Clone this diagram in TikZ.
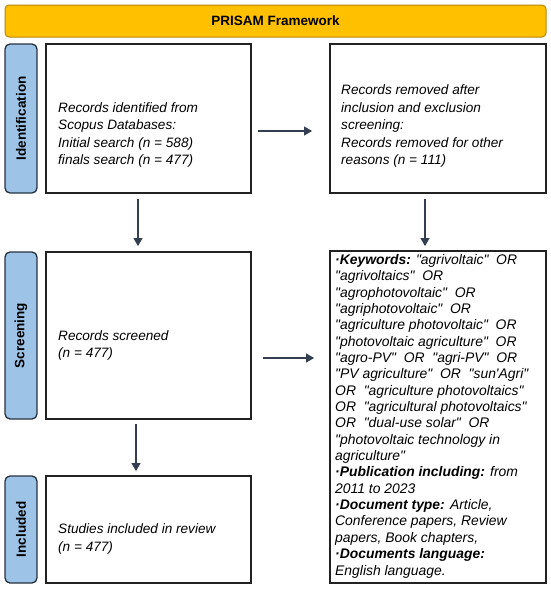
\documentclass[tikz,border=0pt]{standalone}
\usepackage{fontspec}
\setmainfont{Liberation Sans}[Ligatures=TeXOff]
\usetikzlibrary{arrows.meta}
\definecolor{ttlfill}{HTML}{FFC000}
\definecolor{ttldraw}{HTML}{B8860B}
\definecolor{lblfill}{HTML}{9DC3E6}
\definecolor{lbldraw}{HTML}{26313F}
\definecolor{arrcol}{HTML}{333F50}
\definecolor{boxcol}{HTML}{222222}
\tikzset{
  titlebox/.style={draw=ttldraw, line width=1pt, fill=ttlfill, rounded corners=4pt,
    minimum width=541pt, minimum height=32pt, inner sep=0pt,
    font=\fontsize{13.5}{16}\selectfont\bfseries},
  sidelabel/.style={draw=lbldraw, line width=1.3pt, fill=lblfill, rounded corners=5pt,
    minimum width=32pt, inner sep=0pt,
    font=\fontsize{13.5}{16}\selectfont\bfseries},
  mainbox/.style={draw=boxcol, line width=1.6pt, fill=white, inner sep=0pt},
  boxtext/.style={anchor=base west, align=left, inner sep=0pt,
    font=\fontsize{13.6}{17.5}\selectfont\itshape},
  listtext/.style={anchor=base west, align=left, inner sep=0pt,
    font=\fontsize{13.9}{16.35}\selectfont\itshape},
  arr/.style={draw=arrcol, line width=2pt, -{Triangle[length=8pt,width=8.5pt]}}
}
\begin{document}
\begin{tikzpicture}[x=1pt, y=-1pt]
\useasboundingbox (0,0) rectangle (550,589);

\node[titlebox] (title) at (275.5,21) {PRISAM Framework};

\node[sidelabel, minimum height=149pt] (lid) at (21,118.5) {\rotatebox{90}{Identification}};
\node[sidelabel, minimum height=167pt] (lsc) at (21,335.5) {\rotatebox{90}{Screening}};
\node[sidelabel, minimum height=107pt] (lin) at (21,529.5) {\rotatebox{90}{Included}};

\node[mainbox, minimum width=205pt, minimum height=149pt] (b1) at (148.5,118.5) {};
\node[mainbox, minimum width=216pt, minimum height=149pt] (b2) at (438,118.5) {};
\node[mainbox, minimum width=205pt, minimum height=167pt] (b3) at (148.5,335.5) {};
\node[mainbox, minimum width=216pt, minimum height=332pt] (b4) at (438,417) {};
\node[mainbox, minimum width=205pt, minimum height=107pt] (b5) at (148.5,529.5) {};

\node[boxtext] (t1) at (58,164.5) {Records identified from\\Scopus Databases:\\Initial search (n = 588)\\finals search (n = 477)};
\node[boxtext] (t2) at (341,164.5) {Records removed after\\inclusion and exclusion\\screening:\\Records removed for other\\reasons (n = 111)};
\node[boxtext] (t3) at (58,357.6) {Records screened\\(n = 477)};
\node[boxtext] (t5) at (58,551) {Studies included in review\\(n = 477)};
\node[listtext] (t4) at (335,575) {\textbf{·Keywords:} "agrivoltaic"\ \ OR\\
"agrivoltaics"\ \ OR\\
"agrophotovoltaic"\ \ OR\\
"agriphotovoltaic"\ \ OR\\
"agriculture photovoltaic"\ \ OR\\
"photovoltaic agriculture"\ \ OR\\
"agro-PV"\ \ OR\ \ "agri-PV"\ \ OR\\
"PV agriculture"\ \ OR\ \ "sun'Agri"\\
OR\ \ "agriculture photovoltaics"\\
OR\ \ "agricultural photovoltaics"\\
OR\ \ "dual-use solar"\ \ OR\\
"photovoltaic technology in\\
agriculture"\\
\textbf{·Publication including:} from\\
2011 to 2023\\
\textbf{·Document type:} Article,\\
Conference papers, Review\\
papers, Book chapters,\\
\textbf{·Documents language:}\\
English language.};

\coordinate (h1s) at ([yshift=-12.5pt]b1.east);
\coordinate (h2s) at ([yshift=-22.5pt]b3.east);
\draw[arr, shorten <=6pt, shorten >=17pt] (h1s) -- (h1s -| b2.west);
\draw[arr, shorten <=11pt, shorten >=15pt] (h2s) -- (h2s -| b4.west);
\draw[arr, shorten <=5pt, shorten >=5pt] ([xshift=-10.5pt]b1.south) -- ([xshift=-10.5pt]b3.north);
\draw[arr, shorten <=5pt, shorten >=4pt] ([xshift=-13pt]b2.south) -- ([xshift=-13pt]b2.south |- b4.north);
\draw[arr, shorten <=4pt, shorten >=4pt] ([xshift=-12.5pt]b3.south) -- ([xshift=-12.5pt]b5.north);
\end{tikzpicture}
\end{document}
